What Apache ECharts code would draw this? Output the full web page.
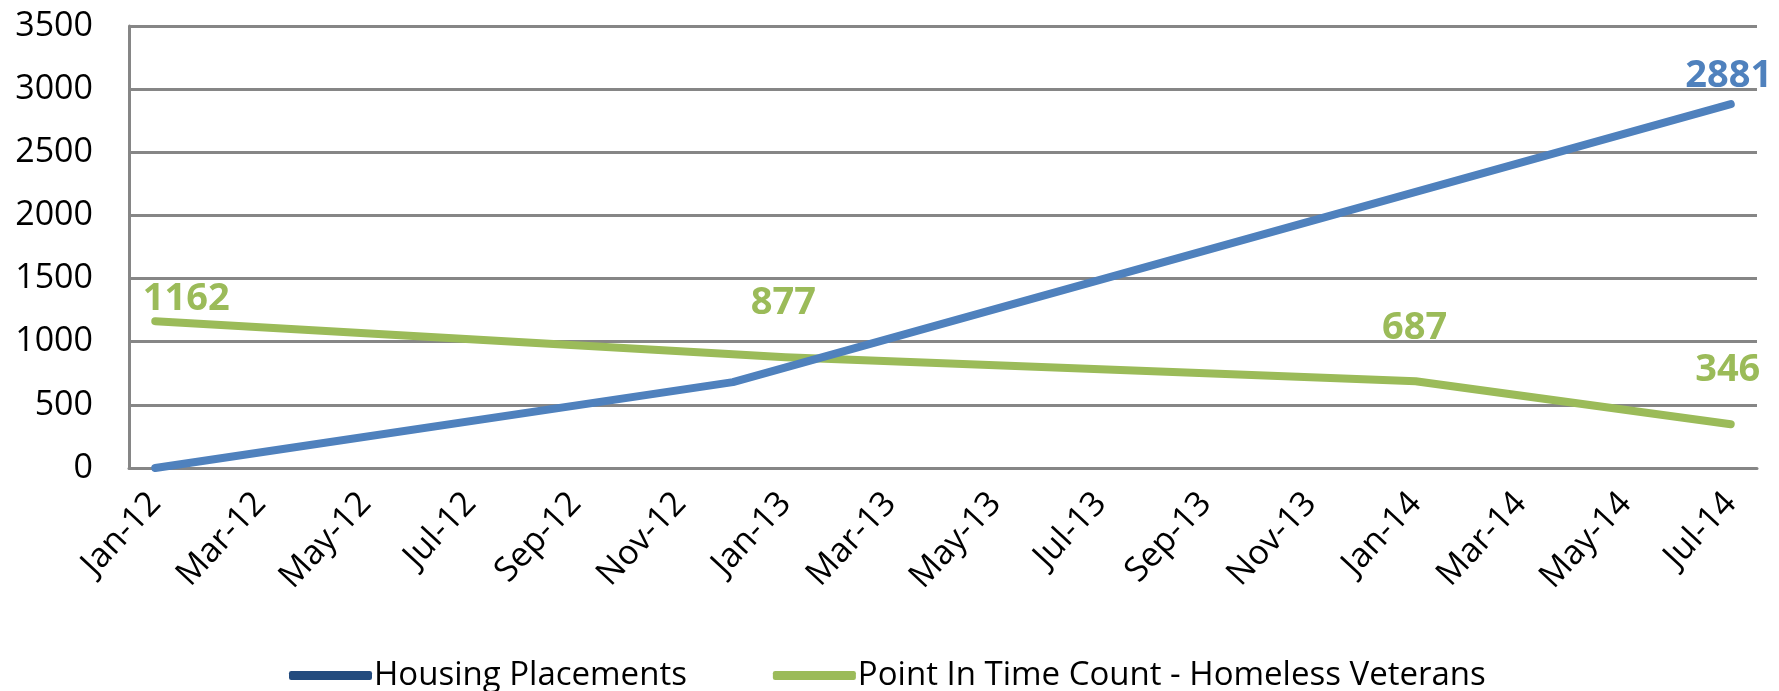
<!DOCTYPE html>
<html>
<head>
<meta charset="utf-8">
<script src="https://cdn.jsdelivr.net/npm/echarts@6/dist/echarts.min.js"></script>
<style>html,body{margin:0;padding:0;background:#fff;}#c{width:1779px;height:691px;}</style>
</head>
<body>
<div id="c"></div>
<script>
// Monthly categories (labels shown every other month)
const months = ['Jan-12','Feb-12','Mar-12','Apr-12','May-12','Jun-12','Jul-12','Aug-12','Sep-12','Oct-12','Nov-12','Dec-12',
  'Jan-13','Feb-13','Mar-13','Apr-13','May-13','Jun-13','Jul-13','Aug-13','Sep-13','Oct-13','Nov-13','Dec-13',
  'Jan-14','Feb-14','Mar-14','Apr-14','May-14','Jun-14','Jul-14'];
// Observed points (null = no observation; lines connect observed points)
const housingPlacements = [0,null,null,null,null,null,null,null,null,null,null,680,
  null,null,null,null,null,null,null,null,null,null,null,null,
  null,null,null,null,null,null,2881];
const pitCount = [1162,null,null,null,null,null,null,null,null,null,null,null,
  877,null,null,null,null,null,null,null,null,null,null,null,
  687,null,null,null,null,null,346];
const yTicks = [0,500,1000,1500,2000,2500,3000,3500];
const seriesNames = ['Housing Placements','Point In Time Count - Homeless Veterans'];

const BLUE = '#4F81BD', GREEN = '#9BBB59', GRID = '#868686';
const FONT = '"Open Sans", "Noto Sans", sans-serif';

function lbl(v, color, dist, dx) {
  return { value: v, label: { show: true, position: 'top', distance: dist, offset: [dx, 0],
    color: color, fontSize: 38, fontWeight: 'bold', fontFamily: FONT, formatter: '{c}' } };
}
const blueData = housingPlacements.map((v, i) => (i === 30 ? lbl(v, BLUE, 8, -2) : v));
const greenLabelCfg = { 0: [2, 31], 12: [34, -2], 24: [33, -1], 30: [34, -3] };
const greenData = pitCount.map((v, i) => (greenLabelCfg[i] ? lbl(v, GREEN, greenLabelCfg[i][0], greenLabelCfg[i][1]) : v));

const chart = echarts.init(document.getElementById('c'), null, { renderer: 'canvas' });
chart.setOption({
  animation: false,
  backgroundColor: '#fff',
  grid: { left: 129, right: 22, top: 26, bottom: 223, containLabel: false },
  legend: {
    left: 284, top: 654,
    itemWidth: 83, itemHeight: 9, itemGap: 86,
    icon: 'roundRect',
    textStyle: { fontSize: 33, fontFamily: FONT, color: '#000', padding: [0, 0, 0, -3] },
    data: [
      { name: seriesNames[0], itemStyle: { color: '#234B7E', opacity: 1 } },
      { name: seriesNames[1], itemStyle: { color: GREEN, opacity: 1 } }
    ]
  },
  xAxis: {
    type: 'category', data: months, boundaryGap: true,
    axisLine: { show: true, lineStyle: { color: GRID, width: 3 } },
    axisTick: { show: false },
    axisLabel: { interval: 1, rotate: 47, margin: 30, fontSize: 34, fontFamily: FONT, color: '#000' }
  },
  yAxis: {
    type: 'value', min: 0, max: 3500, interval: 500,
    axisLine: { show: true, lineStyle: { color: GRID, width: 3 } },
    axisTick: { show: false },
    axisLabel: { margin: 36, fontSize: 34, fontFamily: FONT, color: '#000',
      formatter: v => (yTicks.indexOf(v) >= 0 ? String(v) : '') },
    splitLine: { show: true, lineStyle: { color: GRID, width: 3 } }
  },
  series: [
    { name: seriesNames[0], type: 'line', data: blueData, connectNulls: true,
      symbol: 'circle', symbolSize: 2, showSymbol: true,
      lineStyle: { color: BLUE, width: 8, cap: 'round', join: 'round' }, itemStyle: { color: BLUE }, z: 3 },
    { name: seriesNames[1], type: 'line', data: greenData, connectNulls: true,
      symbol: 'circle', symbolSize: 2, showSymbol: true,
      lineStyle: { color: GREEN, width: 8, cap: 'round', join: 'round' }, itemStyle: { color: GREEN }, z: 2 }
  ]
});
</script>
</body>
</html>
